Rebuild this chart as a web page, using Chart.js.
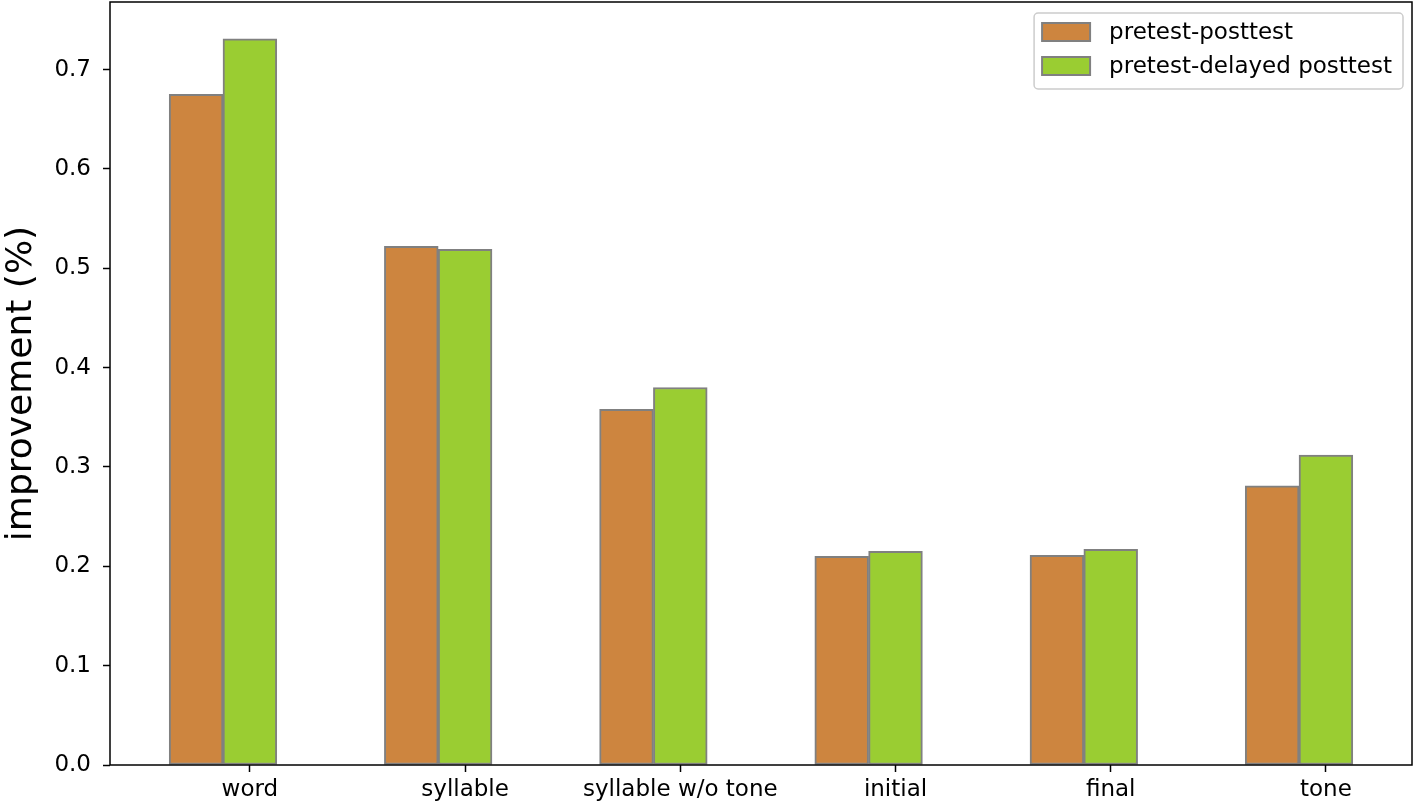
<!DOCTYPE html>
<html>
<head>
<meta charset="utf-8">
<script src="https://cdn.jsdelivr.net/npm/chart.js@4.4.0/dist/chart.umd.min.js"></script>
<style>
    body { margin: 0; background: #fff; }
    canvas { display: block; }
</style>
</head>
<body>
<canvas id="improvementChart" width="1416" height="805"></canvas>
<script>
// Chart data
const categories = ['word', 'syllable', 'syllable w/o tone', 'initial', 'final', 'tone'];
const posttestValues = [0.675, 0.522, 0.358, 0.210, 0.211, 0.281];
const delayedValues = [0.731, 0.519, 0.380, 0.215, 0.217, 0.312];
const yTicks = [0.0, 0.1, 0.2, 0.3, 0.4, 0.5, 0.6, 0.7];
const seriesNames = ['pretest-posttest', 'pretest-delayed posttest'];

const FONT = '"DejaVu Sans", "Liberation Sans", sans-serif';
const BAR_SHIFT = 0.25; // second bar sits one bar width to the right

// Frame around the plot area (matplotlib style spines)
const framePlugin = {
    id: 'frame',
    afterDatasetsDraw(chart) {
        const a = chart.chartArea;
        const ctx = chart.ctx;
        ctx.save();
        ctx.strokeStyle = '#000';
        ctx.lineWidth = 1.5;
        ctx.strokeRect(a.left, a.top, a.right - a.left, a.bottom - a.top);
        ctx.restore();
    }
};

// Legend drawn inside the plot, upper right
const boxLegendPlugin = {
    id: 'boxLegend',
    afterDraw(chart) {
        const a = chart.chartArea;
        const ctx = chart.ctx;
        const sets = chart.data.datasets;
        ctx.save();
        ctx.font = '23px ' + FONT;
        let maxText = 0;
        sets.forEach(ds => { maxText = Math.max(maxText, ctx.measureText(ds.label).width); });

        const swatchW = 48, swatchH = 18, rowH = 34;
        const boxW = 8 + swatchW + 19 + maxText + 11;
        const boxH = 10 + rowH * (sets.length - 1) + swatchH + 14;
        const right = a.right - 9;
        const top = a.top + 11;
        const left = right - boxW;

        ctx.fillStyle = 'rgba(255,255,255,0.8)';
        ctx.strokeStyle = '#cccccc';
        ctx.lineWidth = 1.5;
        ctx.beginPath();
        ctx.roundRect(left, top, boxW, boxH, 4);
        ctx.fill();
        ctx.stroke();

        sets.forEach((ds, i) => {
            const sy = top + 10 + i * rowH;
            ctx.fillStyle = ds.backgroundColor;
            ctx.fillRect(left + 8, sy, swatchW, swatchH);
            ctx.strokeStyle = ds.borderColor;
            ctx.lineWidth = 2;
            ctx.strokeRect(left + 8, sy, swatchW, swatchH);
            ctx.fillStyle = '#000';
            ctx.textBaseline = 'middle';
            ctx.fillText(ds.label, left + 8 + swatchW + 19, sy + swatchH / 2 + 1);
        });
        ctx.restore();
    }
};

document.addEventListener('DOMContentLoaded', function() {
    const ctx = document.getElementById('improvementChart');

    new Chart(ctx, {
        type: 'bar',
        data: {
            datasets: [
                {
                    label: seriesNames[0],
                    data: posttestValues.map((v, i) => ({ x: i, y: v })),
                    backgroundColor: '#cd853f',
                    borderColor: '#808080',
                    borderWidth: 2,
                    borderSkipped: false
                },
                {
                    label: seriesNames[1],
                    data: delayedValues.map((v, i) => ({ x: i + BAR_SHIFT, y: v })),
                    backgroundColor: '#9acd32',
                    borderColor: '#808080',
                    borderWidth: 2,
                    borderSkipped: false
                }
            ]
        },
        options: {
            responsive: false,
            animation: false,
            grouped: false,
            categoryPercentage: 1,
            barPercentage: 1,
            layout: {
                padding: { top: 2, right: 4, left: 0, bottom: 0 }
            },
            plugins: {
                legend: { display: false },
                tooltip: { enabled: false }
            },
            scales: {
                x: {
                    type: 'linear',
                    offset: false,
                    min: -0.4,
                    max: 5.65,
                    border: { display: false },
                    grid: {
                        offset: false,
                        drawOnChartArea: false,
                        tickLength: 7,
                        tickColor: '#000',
                        tickWidth: 1.5
                    },
                    afterBuildTicks: function(scale) {
                        scale.ticks = categories.map((c, i) => ({ value: i + BAR_SHIFT }));
                    },
                    afterFit: function(scale) {
                        scale.height = 40;
                        scale.paddingLeft = 0;
                        scale.paddingRight = 0;
                    },
                    ticks: {
                        autoSkip: false,
                        maxRotation: 0,
                        padding: 4,
                        color: '#000',
                        font: { family: FONT, size: 23 },
                        callback: function(value) {
                            return categories[Math.round(value - BAR_SHIFT)];
                        }
                    }
                },
                y: {
                    min: 0,
                    max: 0.768,
                    border: { display: false },
                    grid: {
                        drawOnChartArea: false,
                        tickLength: 7,
                        tickColor: '#000',
                        tickWidth: 1.5
                    },
                    afterBuildTicks: function(scale) {
                        scale.ticks = yTicks.map(v => ({ value: v }));
                    },
                    afterFit: function(scale) {
                        scale.width = 110;
                        scale.paddingTop = 0;
                        scale.paddingBottom = 0;
                    },
                    ticks: {
                        padding: 12,
                        color: '#000',
                        font: { family: FONT, size: 23 },
                        callback: function(value) {
                            return value.toFixed(1);
                        }
                    },
                    title: {
                        display: true,
                        text: 'improvement (%)',
                        color: '#000',
                        padding: { top: 0, bottom: 0 },
                        font: { family: FONT, size: 36 }
                    }
                }
            }
        },
        plugins: [framePlugin, boxLegendPlugin]
    });
});
</script>
</body>
</html>
